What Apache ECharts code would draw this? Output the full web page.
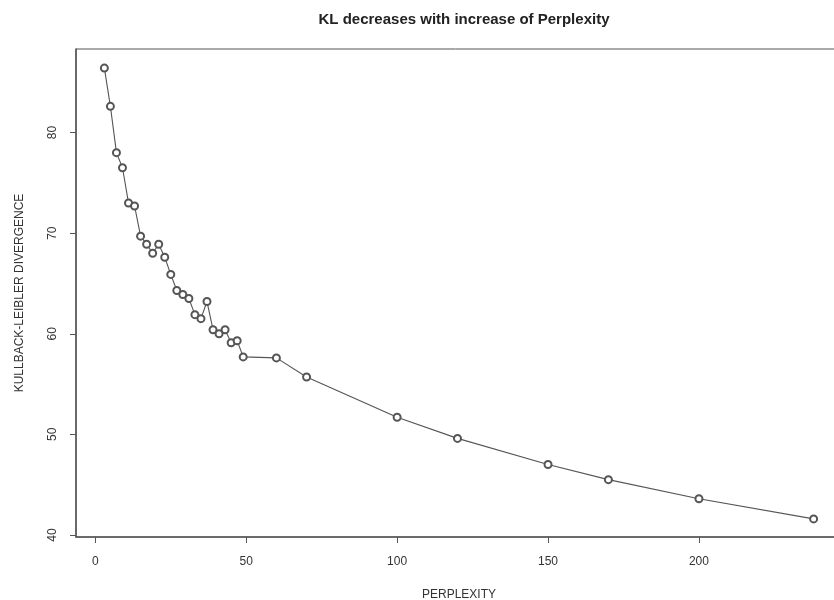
<!DOCTYPE html>
<html>
<head>
<meta charset="utf-8">
<script src="https://cdn.jsdelivr.net/npm/echarts@6/dist/echarts.min.js"></script>
<style>
  html, body { margin: 0; padding: 0; background: #fff; }
  #chart { width: 834px; height: 600px; }
</style>
</head>
<body>
<div id="chart"></div>
<script>
// perplexity values and the KL divergence
const perplexity = [3, 5, 7, 9, 11, 13, 15, 17, 19, 21, 23, 25, 27, 29, 31, 33, 35, 37, 39, 41, 43, 45, 47, 49, 60, 70, 100, 120, 150, 170, 200, 238]
const klDivergence = [86.4, 82.6, 78.0, 76.5, 73.0, 72.7, 69.7, 68.9, 68.0, 68.9, 67.6, 65.9, 64.3, 63.9, 63.5, 61.9, 61.5, 63.2, 60.4, 60.0, 60.4, 59.1, 59.3, 57.7, 57.6, 55.7, 51.7, 49.6, 47.0, 45.5, 43.6, 41.6]
const xTicks = [0, 50, 100, 150, 200]
const yTicks = [40, 50, 60, 70, 80]

const font = 'Liberation Sans, Arial, sans-serif'
const ink = '#333'

const chart = echarts.init(document.getElementById('chart'))
chart.setOption({
  backgroundColor: '#fff',
  animation: false,
  title: {
    text: 'KL decreases with increase of Perplexity',
    left: 459, top: 7, textAlign: 'center',
    textStyle: { fontFamily: font, fontSize: 15, fontWeight: 'bold', color: '#222' }
  },
  // R-style plot region; it runs past the right edge of the picture
  grid: {
    left: 76, top: 49, width: 766, height: 488, outerBoundsMode: 'none',
    show: true, borderColor: '#555', borderWidth: 1, backgroundColor: 'transparent'
  },
  xAxis: {
    type: 'value', min: -6.4, max: 247.4,
    name: 'PERPLEXITY', nameLocation: 'middle', nameGap: 52,
    nameTextStyle: { fontFamily: font, fontSize: 12, color: ink },
    splitLine: { show: false },
    axisLine: { show: true, onZero: false, lineStyle: { color: '#555', width: 1.5 } },
    axisTick: { show: true, length: 6, customValues: xTicks, lineStyle: { color: '#555' } },
    axisLabel: { customValues: xTicks, margin: 19, fontFamily: font, fontSize: 12, color: ink }
  },
  yAxis: {
    type: 'value', min: 39.8, max: 88.3,
    name: 'KULLBACK-LEIBLER DIVERGENCE', nameLocation: 'middle', nameGap: 50,
    nameTextStyle: { fontFamily: font, fontSize: 12, color: ink },
    splitLine: { show: false },
    axisLine: { show: true, onZero: false, lineStyle: { color: '#555', width: 1.5 } },
    axisTick: { show: true, length: 6, customValues: yTicks, lineStyle: { color: '#555' } },
    axisLabel: { customValues: yTicks, rotate: 90, margin: 17, fontFamily: font, fontSize: 12, color: ink }
  },
  series: [{
    type: 'line',
    data: perplexity.map((p, i) => [p, klDivergence[i]]),
    symbol: 'emptyCircle', symbolSize: 7,
    lineStyle: { color: '#555', width: 1.1 },
    itemStyle: { color: '#555', borderWidth: 1 }
  }]
})
</script>
</body>
</html>
